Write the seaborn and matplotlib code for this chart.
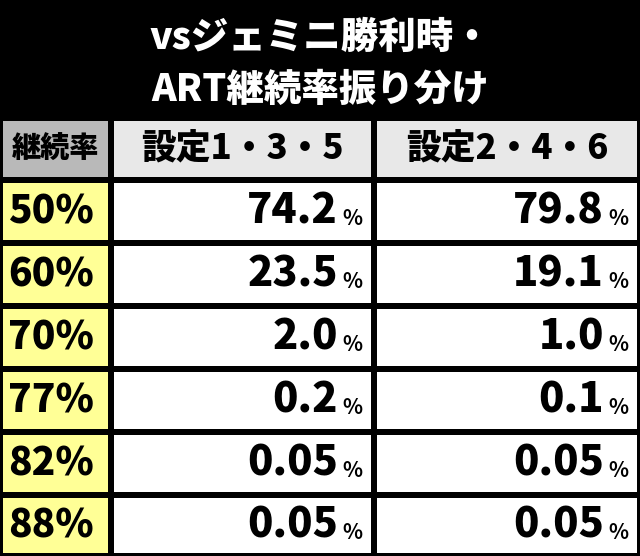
import matplotlib
matplotlib.use("Agg")
import matplotlib.pyplot as plt
import numpy as np
import seaborn as sns
from matplotlib.colors import ListedColormap

TITLE = ["vsジェミニ勝利時・", "ART継続率振り分け"]
HEADERS = ["継続率", "設定1・3・5", "設定2・4・6"]
RATES = ["50%", "60%", "70%", "77%", "82%", "88%"]
SET_135 = ["74.2", "23.5", "2.0", "0.2", "0.05", "0.05"]
SET_246 = ["79.8", "19.1", "1.0", "0.1", "0.05", "0.05"]

sns.set_style("white")
plt.rcParams["font.family"] = ["Noto Sans CJK JP", "DejaVu Sans"]

fig = plt.figure(figsize=(6.4, 5.56), dpi=100, facecolor="black")
ax = fig.add_axes([0, 0, 1, 1])
ax.set_facecolor("black")

x_edges = np.array([0, 111, 374, 640])
y_edges = np.array([118, 180, 243, 306, 369, 432, 495, 556])
# 0 = header grey, 1 = header light, 2 = yellow, 3 = white
codes = np.array([[0, 1, 1]] + [[2, 3, 3]] * len(RATES))
cmap = ListedColormap(["#b9b9b9", "#e8e8e8", "#ffff96", "#ffffff"])
ax.pcolormesh(x_edges, y_edges, codes, cmap=cmap, vmin=-0.5, vmax=3.5,
              edgecolors="black", linewidth=3)
ax.set_xlim(0, 640)
ax.set_ylim(556, 0)
ax.axis("off")

for i, line in enumerate(TITLE):
    ax.text(320, 38 + i * 52, line, color="white", fontsize=27,
            fontweight="black", ha="center", va="center")

hy = (y_edges[0] + y_edges[1]) / 2
for j, h in enumerate(HEADERS):
    cx = (x_edges[j] + x_edges[j + 1]) / 2
    ax.text(cx, hy, h, fontsize=21 if j == 0 else 25, fontweight="black",
            ha="center", va="center", color="black")

for i, rate in enumerate(RATES):
    cy = (y_edges[i + 1] + y_edges[i + 2]) / 2
    ax.text(8, cy, rate, fontsize=28, fontweight="black", ha="left",
            va="center", color="black")
    for j, vals in enumerate([SET_135, SET_246]):
        right = x_edges[j + 2]
        ax.text(right - 36, cy, vals[i], fontsize=30, fontweight="black",
                ha="right", va="center", color="black")
        ax.text(right - 12, cy + 7, "%", fontsize=15, fontweight="bold",
                ha="right", va="center", color="black")

fig.savefig("out.png", dpi=100, facecolor="black")
